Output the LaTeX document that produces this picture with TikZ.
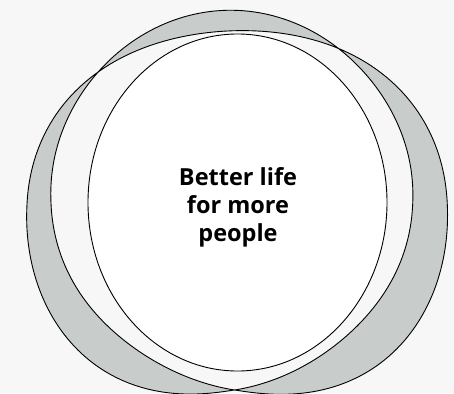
\documentclass[tikz,border=0pt]{standalone}
\usepackage{fontspec}
\setmainfont{Open Sans}
\definecolor{ringgray}{RGB}{200,205,203}
\definecolor{backgr}{RGB}{247,247,247}
% the ring is one closed line that goes round twice,
% crossing itself at 58, 134 and 270 degrees
\newcommand{\ringh}[1]{(73.5+2.5*cos(#1)+4.5*sin(#1)-21*cos(2*#1))*sin((#1-270)/2)*sin((#1-134)/2)*sin((#1-58)/2)}
\newcommand{\ringe}[1]{(0.965+0.035*sin(#1))}
\begin{document}
\begin{tikzpicture}[x=1pt,y=-1pt]
    \fill[backgr] (0,0) rectangle (454,393);
    \useasboundingbox (0,0) rectangle (454,393);

    \filldraw[fill=ringgray, even odd rule, line width=0.9pt]
        plot[domain=0.7:720.7, samples=481, variable=\a]
        ({234.5+(195.5+\ringh{\a})*cos(\a)*pow(abs(cos(\a))+0.0001,\ringe{\a}-1)},
         {205.25-(184.75+\ringh{\a})*sin(\a)*pow(abs(sin(\a))+0.0001,\ringe{\a}-1)}) -- cycle;

    \filldraw[fill=white, line width=0.9pt] (237.5,202.5) ellipse [x radius=149.5, y radius=168.5];
    \node[font=\bfseries\fontsize{23.5}{28}\selectfont, align=center] (goal) at (238,207) {Better life\\for more\\people};
\end{tikzpicture}
\end{document}
